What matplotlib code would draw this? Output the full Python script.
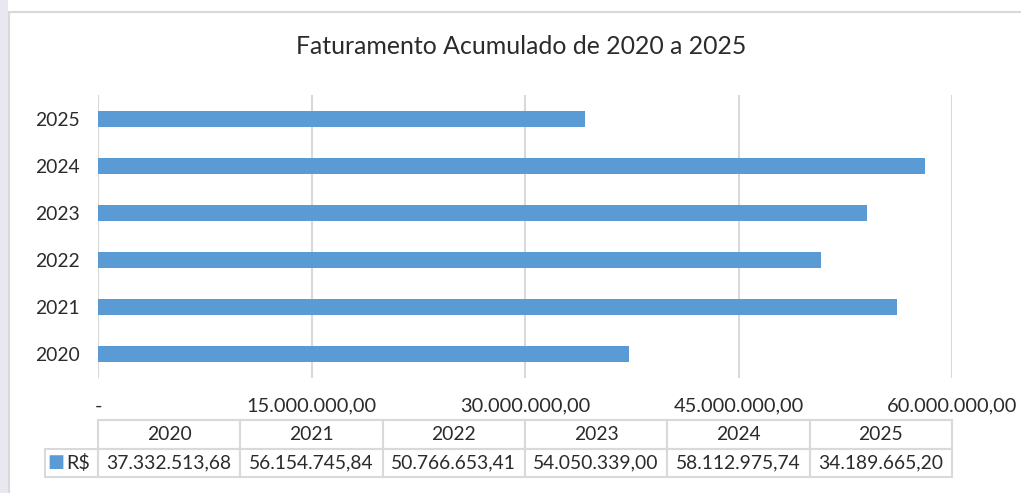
import matplotlib
matplotlib.use("Agg")
from matplotlib import pyplot as plt
from matplotlib.patches import Rectangle
from matplotlib.ticker import FuncFormatter

# data
anos = ["2020", "2021", "2022", "2023", "2024", "2025"]
faturamento = [37332513.68, 56154745.84, 50766653.41, 54050339.00, 58112975.74, 34189665.20]
serie = "R$"

barColor = "#5b9bd5"
gridColor = "#d9d9d9"
textColor = "#2b2b2b"
plt.rcParams["font.family"] = ["Lato", "DejaVu Sans"]


def brl(v, pos=None):
    if v == 0:
        return "-"
    s = f"{v:,.2f}"
    return s.replace(",", "X").replace(".", ",").replace("X", ".")


W, H = 1021, 493
fig = plt.figure(figsize=(W / 100, H / 100), dpi=100)
fig.patch.set_facecolor("white")

# light lavender strip on the left and the chart frame
fig.patches.append(Rectangle((0, 0), 8 / W, 1, transform=fig.transFigure,
                             facecolor="#e9e8f1", edgecolor="none", zorder=-2))
fig.patches.append(Rectangle((8.5 / W, -0.1), 1.2, 1 - 12 / H + 0.1, transform=fig.transFigure,
                             facecolor="white", edgecolor="#d9d9d9", lw=1.5, zorder=-1))

ax = fig.add_axes([98 / W, 1 - 378 / H, (952 - 98) / W, (378 - 95) / H])
ypos = list(range(len(anos)))
ax.barh(ypos, faturamento, height=0.34, color=barColor, zorder=3)
ax.set_ylim(-0.5, 5.5)
ax.set_xlim(0, 60000000)
ax.set_xticks([0, 15000000, 30000000, 45000000, 60000000])
ax.xaxis.set_major_formatter(FuncFormatter(brl))
ax.set_yticks(ypos)
ax.set_yticklabels(anos)
ax.tick_params(axis="both", length=0, labelsize=14.4, colors=textColor)
ax.tick_params(axis="y", pad=13, labelsize=13.9)
ax.tick_params(axis="x", pad=14)
ax.grid(axis="x", color=gridColor, lw=1.5, zorder=0)
for sp in ax.spines.values():
    sp.set_visible(False)
ax.set_facecolor("none")

fig.text(521 / W, 1 - 47 / H, "Faturamento Acumulado de 2020 a 2025",
         ha="center", va="center", fontsize=17.9, color=textColor)

# data table under the chart
firstW = 53 / 854
colW = [firstW] + [1 / 6] * 6
tab = ax.table(cellText=[[serie] + [brl(v) for v in faturamento]],
               colLabels=[""] + anos,
               colWidths=colW,
               cellLoc="center",
               bbox=[-firstW, -(477 - 378) / 283, 1 + firstW, (477 - 420) / 283])
tab.auto_set_font_size(False)
for (r, c), cell in tab.get_celld().items():
    cell.set_edgecolor(gridColor)
    cell.set_linewidth(1.5)
    cell.get_text().set_fontsize(13.9)
    cell.get_text().set_color(textColor)
    if r == 0 and c == 0:
        cell.visible_edges = ""
    if r == 1 and c == 0:
        cell.get_text().set_ha("right")
        cell.PAD = 0.14
        cell.get_text().set_fontsize(14.2)
ax.text(-firstW + 0.013, -(462 - 378) / 283, "\u25a0", transform=ax.transAxes,
        ha="center", va="center", color=barColor, fontsize=13, family="DejaVu Sans")

fig.savefig("out.png", dpi=100)
